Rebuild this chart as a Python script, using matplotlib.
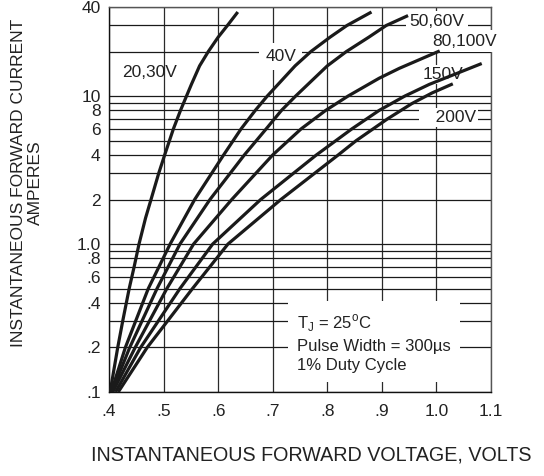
import matplotlib
matplotlib.use("Agg")
import matplotlib.pyplot as plt
from matplotlib.ticker import FixedLocator, NullFormatter

plt.rcParams["font.family"] = ["Liberation Sans", "DejaVu Sans"]
plt.rcParams["mathtext.fontset"] = "custom"
plt.rcParams["mathtext.rm"] = "Liberation Sans"

# forward voltage (V) / forward current (A)
vf_2030 = [0.402, 0.416, 0.425, 0.437, 0.446, 0.455, 0.467, 0.477, 0.491, 0.502,
           0.518, 0.531, 0.551, 0.566, 0.582, 0.600, 0.617, 0.636]
if_2030 = [0.1, 0.2, 0.3, 0.5, 0.7, 1, 1.5, 2, 3, 4, 6, 8, 12, 16, 20, 25, 30, 37]

vf_40 = [0.404, 0.430, 0.472, 0.512, 0.557, 0.610, 0.642, 0.668, 0.690, 0.741,
         0.770, 0.805, 0.836, 0.881]
if_40 = [0.1, 0.2, 0.5, 1, 2, 4, 6, 8, 10, 16, 20, 25, 30, 37]

vf_5060 = [0.405, 0.438, 0.488, 0.530, 0.585, 0.648, 0.688, 0.716, 0.742, 0.800,
           0.835, 0.876, 0.908, 0.948]
if_5060 = [0.1, 0.2, 0.5, 1, 2, 4, 6, 8, 10, 16, 20, 25, 30, 35]

vf_80100 = [0.407, 0.448, 0.506, 0.555, 0.625, 0.700, 0.752, 0.797, 0.838, 0.895,
            0.932, 1.006]
if_80100 = [0.1, 0.2, 0.5, 1, 2, 4, 6, 8, 10, 13.2, 15.4, 20.2]

vf_150 = [0.412, 0.458, 0.530, 0.590, 0.678, 0.780, 0.845, 0.895, 0.942, 0.987, 1.083]
if_150 = [0.1, 0.2, 0.5, 1, 2, 4, 6, 8, 10, 12, 16.6]

vf_200 = [0.417, 0.470, 0.553, 0.618, 0.715, 0.820, 0.853, 0.910, 0.955, 0.992, 1.030]
if_200 = [0.1, 0.2, 0.5, 1, 2, 4, 5, 7, 8.9, 10.5, 12.1]

x_ticks = [0.4, 0.5, 0.6, 0.7, 0.8, 0.9, 1.0, 1.1]
x_labels = [".4", ".5", ".6", ".7", ".8", ".9", "1.0", "1.1"]
y_ticks = [0.1, 0.2, 0.4, 0.6, 0.8, 1, 2, 4, 6, 8, 10, 40]
y_labels = [".1", ".2", ".4", ".6", ".8", "1.0", "2", "4", "6", "8", "10", "40"]
y_grid = [0.2, 0.3, 0.4, 0.5, 0.6, 0.7, 0.8, 0.9, 1, 2, 3, 4, 5, 6, 7, 8, 9, 10, 20, 30]

fig = plt.figure(figsize=(5.44, 4.76), dpi=100)
ax = fig.add_axes([109 / 544, 84 / 476, 382 / 544, 385 / 476])
ax.set_yscale("log")
ax.set_xlim(0.4, 1.1)
ax.set_ylim(0.1, 40)

ax.set_xticks(x_ticks)
ax.set_xticklabels(x_labels)
ax.yaxis.set_major_locator(FixedLocator(y_ticks))
ax.set_yticklabels(y_labels)
ax.yaxis.set_minor_locator(FixedLocator(y_grid))
ax.yaxis.set_minor_formatter(NullFormatter())
ax.tick_params(axis="both", which="both", length=0, labelsize=12.5, colors="#222222")
ax.tick_params(axis="x", pad=9)
ax.tick_params(axis="y", pad=6)

ax.set_axisbelow(True)
ax.grid(True, axis="x", color="#2a2a2a", lw=0.9)
ax.grid(True, axis="y", which="both", color="#1a1a1a", lw=0.9)
for s in ax.spines.values():
    s.set_color("#555555")
    s.set_linewidth(1.0)
ax.spines["left"].set_color("#111111")
ax.spines["bottom"].set_color("#111111")

curves = [(vf_2030, if_2030), (vf_40, if_40), (vf_5060, if_5060),
          (vf_80100, if_80100), (vf_150, if_150), (vf_200, if_200)]
for vf, i_f in curves:
    ax.plot(vf, i_f, color="#1a1a1a", lw=2.3, solid_capstyle="butt",
            solid_joinstyle="round", zorder=4)

box = dict(boxstyle="square,pad=0.2", fc="white", ec="none")
lab = dict(fontsize=12.5, color="#222222", zorder=3, va="center")
ax.text(0.475, 14.5, "20,30V", ha="center", **lab)
ax.text(0.715, 18.4, "40V", ha="center", bbox=dict(boxstyle="square,pad=0.35", fc="white", ec="none"), **lab)
ax.text(0.951, 31.8, "50,60V", ha="left", bbox=box, **lab)
ax.text(0.992, 23.5, "80,100V", ha="left", bbox=box, **lab)
ax.text(0.975, 14.0, "150V", ha="left", bbox=dict(boxstyle="square,pad=0.1", fc="white", ec="none"), **lab)
ax.text(0.971, 7.16, "   200V", ha="left", bbox=dict(boxstyle="square,pad=0.12", fc="white", ec="none"), **lab)

ax.text(0.745, 0.215,
        "T$_{\\mathrm{J}}$ = 25$^{\\mathrm{o}}$C\nPulse Width = 300\u00b5s\n1% Duty Cycle     ",
        fontsize=12, color="#222222", ha="left", va="center", linespacing=1.35, zorder=3,
        bbox=dict(boxstyle="square,pad=0.55", fc="white", ec="none"))

fig.text(0.05, 0.616, "INSTANTANEOUS FORWARD CURRENT\nAMPERES", rotation=90,
         ha="center", va="center", multialignment="center", fontsize=12.5,
         color="#222222", linespacing=1.15)
fig.text(0.572, 0.044, "INSTANTANEOUS FORWARD VOLTAGE, VOLTS", ha="center", va="center",
         fontsize=14.2, color="#222222")

fig.savefig("out.png", dpi=100)
